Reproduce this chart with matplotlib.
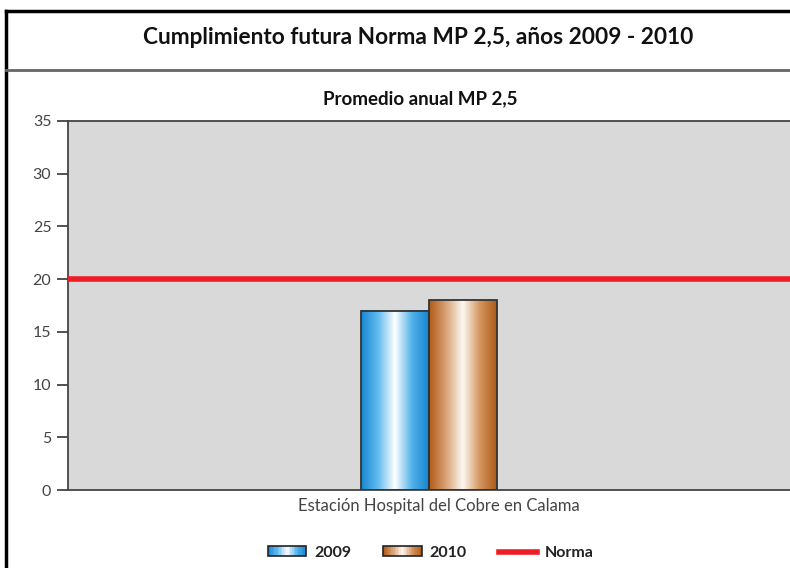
import matplotlib
matplotlib.use('Agg')
import matplotlib.pyplot as plt
import matplotlib.patches as mpatches
from matplotlib.lines import Line2D
from matplotlib.colors import LinearSegmentedColormap
from matplotlib.legend_handler import HandlerBase
import numpy as np

plt.rcParams['font.family'] = ['Lato', 'DejaVu Sans']

# data
station = ['Estación Hospital del Cobre en Calama']
years = ['2009', '2010']
values_2009 = [17.0]
values_2010 = [18.0]
norma = 20
y_ticks = [0, 5, 10, 15, 20, 25, 30, 35]

blue_cmap = LinearSegmentedColormap.from_list(
    'b', ['#1886d4', '#62bbee', '#ffffff', '#52b2ea', '#1683d0'])
orange_cmap = LinearSegmentedColormap.from_list(
    'o', ['#b05a17', '#d9a276', '#fdf8f3', '#d4955f', '#ad5b19'])


class GradientHandler(HandlerBase):
    """Legend key drawn as a horizontal gradient box."""

    def __init__(self, cmap, n=24):
        super().__init__()
        self.cmap = cmap
        self.n = n

    def create_artists(self, legend, orig_handle, xdescent, ydescent,
                       width, height, fontsize, trans):
        artists = []
        step = width / self.n
        for i in range(self.n):
            r = mpatches.Rectangle((-xdescent + i * step, -ydescent), step * 1.05, height,
                                   facecolor=self.cmap((i + 0.5) / self.n),
                                   edgecolor='none', transform=trans)
            artists.append(r)
        artists.append(mpatches.Rectangle((-xdescent, -ydescent), width, height,
                                          facecolor='none', edgecolor='#222222',
                                          linewidth=1.2, transform=trans))
        return artists


fig = plt.figure(figsize=(7.9, 5.68), dpi=100)
ax = fig.add_axes([68 / 790, 1 - 490 / 568, 1 - 68 / 790, 369 / 568])
ax.set_facecolor('#d9d9d9')

x = np.arange(len(station))
width = 68 / 722
bars1 = ax.bar(x - width / 2, values_2009, width, facecolor='none',
               edgecolor='#333333', linewidth=1.3, zorder=3)
bars2 = ax.bar(x + width / 2, values_2010, width, facecolor='none',
               edgecolor='#333333', linewidth=1.3, zorder=3)

grad = np.linspace(0, 1, 256).reshape(1, -1)
for bars, cmap in ((bars1, blue_cmap), (bars2, orange_cmap)):
    for b in bars:
        x0, y0 = b.get_x(), b.get_y()
        ax.imshow(grad, cmap=cmap, aspect='auto', zorder=2,
                  extent=(x0, x0 + b.get_width(), y0, y0 + b.get_height()))

ax.axhline(norma, color='#ee1c25', linewidth=4, zorder=4)

ax.set_xlim(-0.5, 0.5)
ax.set_ylim(0, 35)
ax.set_yticks(y_ticks)
ax.set_xticks([])
ax.set_xlabel(station[0], x=0.514, labelpad=6, fontsize=12, color='#444444')
ax.tick_params(axis='y', length=8, width=1.2, color='#333333', labelsize=11.5,
               labelcolor='#444444', pad=4)
for s in ('left', 'bottom', 'top'):
    ax.spines[s].set_color('#444444')
    ax.spines[s].set_linewidth(1.3)
ax.spines['right'].set_visible(False)

# titles
fig.text(418 / 790, 1 - 38 / 568, 'Cumplimiento futura Norma MP 2,5, años 2009 - 2010',
         ha='center', va='center', fontsize=16.3, fontweight='bold', color='#111111')
fig.text(420 / 790, 1 - 99 / 568, 'Promedio anual MP 2,5',
         ha='center', va='center', fontsize=13.5, fontweight='bold', color='#111111')

# frame
fig.add_artist(Line2D([6 / 790, 6 / 790], [0, 1 - 11 / 568], color='black', linewidth=2.5))
fig.add_artist(Line2D([6 / 790, 1], [1 - 11 / 568, 1 - 11 / 568], color='black', linewidth=2.5))
fig.add_artist(Line2D([6 / 790, 1], [1 - 70 / 568, 1 - 70 / 568], color='#666666', linewidth=2))

# legend
h1 = mpatches.Patch(label=years[0])
h2 = mpatches.Patch(label=years[1])
h3 = Line2D([], [], color='#ee1c25', linewidth=4, label='Norma')
leg = fig.legend(handles=[h1, h2, h3], loc='center', ncol=3, frameon=False,
                 bbox_to_anchor=(431 / 790, 1 - 553 / 568), fontsize=11.5,
                 handlelength=2.4, handleheight=0.6, columnspacing=2.0,
                 handletextpad=0.5,
                 handler_map={h1: GradientHandler(blue_cmap),
                              h2: GradientHandler(orange_cmap)})
for t in leg.get_texts():
    t.set_fontweight('bold')
    t.set_color('#222222')

fig.savefig('out.png', dpi=100)
